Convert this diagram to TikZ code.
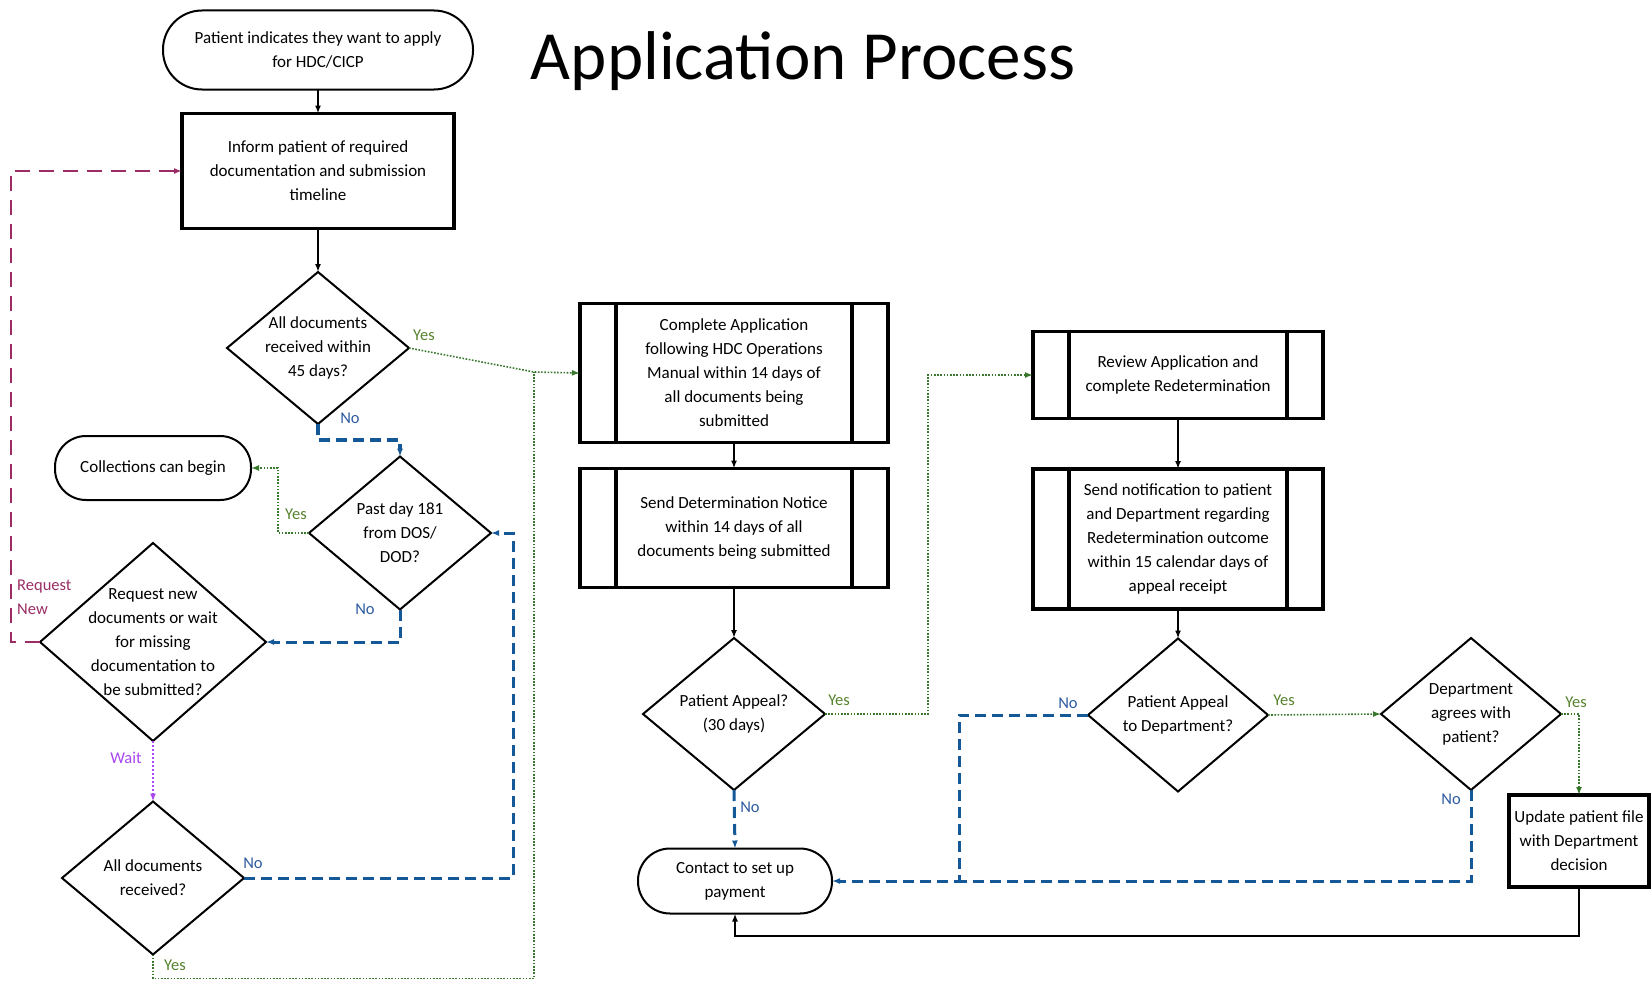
\documentclass[tikz,border=0pt]{standalone}
\usepackage{fontspec}
\setmainfont{Carlito}
\usetikzlibrary{shapes.geometric,arrows.meta}
\definecolor{nblue}{RGB}{20,88,152}
\definecolor{lblue}{RGB}{45,90,160}
\definecolor{ygreen}{RGB}{55,120,45}
\definecolor{lgreen}{RGB}{85,130,45}
\definecolor{reqc}{RGB}{155,45,100}
\definecolor{waitc}{RGB}{170,70,240}
\tikzset{
  txt/.style={font=\fontsize{17}{24}\selectfont, align=center, inner sep=0pt},
  term/.style={txt, draw, line width=2pt, outer sep=0pt},
  box/.style={txt, draw, line width=3.5pt, outer sep=0pt},
  dia/.style={draw, diamond, line width=2pt, inner sep=0pt, outer sep=0pt},
  tip/.style={-{Latex[length=8pt,width=6pt]}},
  blk/.style={draw=black, line width=2pt, tip},
  nol/.style={draw=nblue, line width=3pt, dash pattern=on 11pt off 6pt},
  yesl/.style={draw=ygreen, line width=1.6pt, dash pattern=on 1.6pt off 1.6pt},
  waitl/.style={draw=waitc, line width=2pt, dash pattern=on 2pt off 2pt},
  reql/.style={draw=reqc, line width=2pt, dash pattern=on 15pt off 9pt},
  lab/.style={font=\fontsize{16.5}{24}\selectfont, inner sep=0pt},
  ylab/.style={lab, text=lgreen},
  nlab/.style={lab, text=lblue},
}
\begin{document}
\begin{tikzpicture}[x=1pt,y=-1pt]
\useasboundingbox (0,0) rectangle (1651,982);

% title
\node[font=\fontsize{69}{80}\selectfont, anchor=base, inner sep=0pt] (title) at (803,79) {Application Process};

% left column
\node[term, minimum width=310pt, minimum height=79pt, rounded corners=39pt] (start) at (318,50) {Patient indicates they want to apply\\for HDC/CICP};
\node[box, minimum width=272pt, minimum height=115pt] (inform) at (318,171) {Inform patient of required\\documentation and submission\\timeline};
\node[dia, minimum width=182pt, minimum height=152pt] (d1) at (318,348) {};
\node[txt] (d1t) at (d1) {All documents\\received within\\45 days?};
\node[dia, minimum width=182pt, minimum height=153pt] (d2) at (400,533) {};
\node[txt] (d2t) at (d2) {Past day 181\\from DOS/\\DOD?};
\node[term, minimum width=196pt, minimum height=64pt, rounded corners=31pt] (coll) at (153,468) {Collections can begin};
\node[dia, minimum width=226pt, minimum height=198pt] (d3) at (153,642) {};
\node[txt] (d3t) at (d3) {Request new\\documents or wait\\for missing\\documentation to\\be submitted?};
\node[dia, minimum width=182pt, minimum height=153pt] (d4) at (153,878) {};
\node[txt] (d4t) at (d4) {All documents\\received?};

% middle column
\node[box, minimum width=308pt, minimum height=139pt] (cA) at (734,373) {Complete Application\\following HDC Operations\\Manual within 14 days of\\all documents being\\submitted};
\node[box, minimum width=308pt, minimum height=119pt] (cS) at (734,528) {Send Determination Notice\\within 14 days of all\\documents being submitted};
\node[dia, minimum width=182pt, minimum height=152pt] (d5) at (734,714) {};
\node[txt] (d5t) at (d5) {Patient Appeal?\\(30 days)};
\node[term, minimum width=194pt, minimum height=65pt, rounded corners=32pt] (contact) at (735,881) {Contact to set up\\payment};

% right column
\node[box, minimum width=290pt, minimum height=87pt] (review) at (1178,375) {Review Application and\\complete Redetermination};
\node[box, minimum width=290pt, minimum height=140pt] (notif) at (1178,539) {Send notification to patient\\and Department regarding\\Redetermination outcome\\within 15 calendar days of\\appeal receipt};
\node[dia, minimum width=180pt, minimum height=153pt] (d6) at (1178,715) {};
\node[txt] (d6t) at (d6) {Patient Appeal\\to Department?};
\node[dia, minimum width=180pt, minimum height=152pt] (d7) at (1471,714) {};
\node[txt] (d7t) at (d7) {Department\\agrees with\\patient?};
\node[box, minimum width=140pt, minimum height=92pt] (update) at (1579,841) {Update patient file\\with Department\\decision};

% predefined-process inner lines
\foreach \n in {cA,cS,review,notif}{
  \draw[line width=3.5pt] ([xshift=36pt]\n.north west) -- ([xshift=36pt]\n.south west);
  \draw[line width=3.5pt] ([xshift=-36pt]\n.north east) -- ([xshift=-36pt]\n.south east);
}

% coordinates
\coordinate (j1) at (534,372);
\coordinate (j2) at (959,881);

% black connectors
\draw[blk] (start.south) -- (inform.north);
\draw[blk] (inform.south) -- (d1.north);
\draw[blk] (cA.south) -- (cS.north);
\draw[blk] (cS.south) -- (d5.north);
\draw[blk] (review.south) -- (notif.north);
\draw[blk] (notif.south) -- (d6.north);
\draw[blk] (update.south) -- ++(0,49) -| (contact.south);

% yes (green dotted)
\draw[yesl, tip] (d1.east) -- (j1) -- (cA.west);
\draw[yesl] (d4.south) -- ++(0,24) -| (j1);
\draw[yesl, tip] (d2.west) -- ++(-31,0) |- (coll.east);
\draw[yesl, tip] (d5.east) -- ++(103,0) |- (review.west);
\draw[yesl, tip] (d6.east) -- (d7.west);
\draw[yesl, tip] (d7.east) -| (update.north);

% no (blue dashed)
\draw[nol, line width=3.8pt, tip] (d1.south) -- ++(0,16) -| (d2.north);
\draw[nol, tip] (d2.south) |- (d3.east);
\draw[nol, tip] (d4.east) -- ++(269,0) |- (d2.east);
\draw[nol, tip] (d5.south) -- (contact.north);
\draw[nol, tip] (d6.west) -- (j2 |- d6.west) -- (j2) -- (contact.east);
\draw[nol] (d7.south) |- (j2);

% request new / wait
\draw[reql, tip] (d3.west) -- (11,642) |- (inform.west);
\draw[waitl, tip] (d3.south) -- (d4.north);

% labels
\node[ylab] (l1) at (424,335) {Yes};
\node[nlab] (l2) at (350,418) {No};
\node[ylab] (l3) at (296,514) {Yes};
\node[nlab] (l4) at (365,609) {No};
\node[lab, text=reqc, align=left, anchor=west] (l5) at (17,597) {Request\\New};
\node[lab, text=waitc] (l6) at (126,758) {Wait};
\node[nlab] (l7) at (253,863) {No};
\node[ylab] (l8) at (175,965) {Yes};
\node[ylab] (l9) at (839,700) {Yes};
\node[nlab] (l10) at (750,807) {No};
\node[nlab] (l11) at (1068,703) {No};
\node[ylab] (l12) at (1284,700) {Yes};
\node[ylab] (l13) at (1576,702) {Yes};
\node[nlab] (l14) at (1451,799) {No};
\end{tikzpicture}
\end{document}
